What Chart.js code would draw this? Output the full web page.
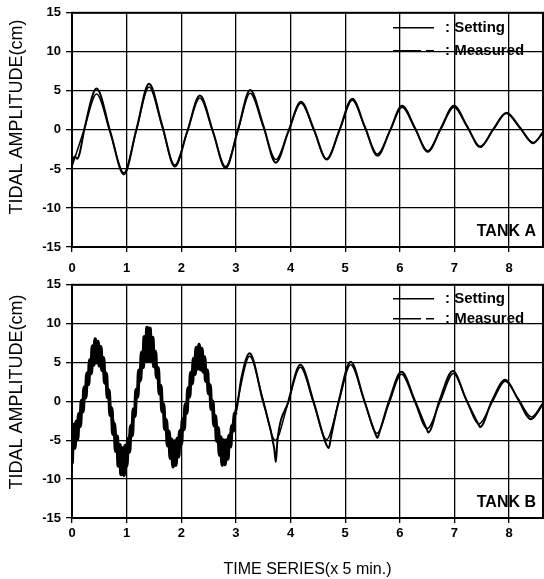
<!DOCTYPE html>
<html>
<head>
<meta charset="utf-8">
<script src="https://cdn.jsdelivr.net/npm/chart.js@4.4.1/dist/chart.umd.min.js"></script>
<style>
  html, body { margin: 0; padding: 0; background: #fff; }
  #wrap { position: relative; width: 544px; height: 579px; }
  .panel { position: absolute; left: 0; width: 544px; }
  #tankA { top: 0; height: 272px; }
  #tankB { top: 272px; height: 307px; }
</style>
</head>
<body>
<div id="wrap">
  <div class="panel" id="tankA"><canvas id="chartA"></canvas></div>
  <div class="panel" id="tankB"><canvas id="chartB"></canvas></div>
</div>
<script>
// Tank A (time in x 5 min, amplitude in cm)
const timeSettingA = [0.00, 0.22, 0.45, 0.70, 0.95, 1.18, 1.41, 1.65, 1.88, 2.11, 2.34, 2.58, 2.81, 3.04, 3.26, 3.50, 3.73, 3.96, 4.19, 4.43, 4.66, 4.90, 5.13, 5.36, 5.59, 5.82, 6.04, 6.28, 6.51, 6.75, 6.99, 7.23, 7.47, 7.71, 7.95, 8.20, 8.44, 8.62];
const ampSettingA = [-4.7, 0.0, 4.6, -0.4, -5.5, 0.0, 5.5, 0.4, -4.5, -0.2, 4.1, -0.3, -4.7, 0.0, 4.7, 0.4, -3.8, -0.2, 3.4, -0.1, -3.7, 0.0, 3.8, 0.3, -3.1, -0.1, 2.9, 0.1, -2.7, 0.1, 2.9, 0.4, -2.1, 0.0, 2.1, 0.2, -1.6, -0.4];
const timeMeasuredA = [0.00, 0.05, 0.10, 0.14, 0.23, 0.45, 0.70, 0.95, 1.18, 1.41, 1.65, 1.88, 2.11, 2.34, 2.58, 2.81, 3.04, 3.26, 3.50, 3.73, 3.96, 4.19, 4.43, 4.66, 4.90, 5.13, 5.36, 5.59, 5.82, 6.04, 6.28, 6.51, 6.75, 6.99, 7.23, 7.47, 7.71, 7.95, 8.20, 8.44, 8.62];
const ampMeasuredA = [-4.2, -3.4, -3.7, -3.0, 0.2, 5.3, -0.2, -5.7, 0.1, 5.9, 0.6, -4.7, -0.2, 4.4, -0.2, -4.9, 0.1, 5.1, 0.6, -4.2, -0.2, 3.6, 0.0, -3.8, 0.1, 4.0, 0.4, -3.3, -0.1, 3.1, 0.2, -2.8, 0.2, 3.1, 0.5, -2.2, 0.1, 2.2, 0.3, -1.7, -0.3];

// Tank B
const timeSettingB = [0.00, 0.23, 0.46, 0.70, 0.93, 1.17, 1.40, 1.64, 1.87, 2.10, 2.33, 2.56, 2.79, 3.02, 3.25, 3.49, 3.72, 3.95, 4.18, 4.42, 4.66, 4.88, 5.10, 5.34, 5.58, 5.80, 6.03, 6.27, 6.50, 6.74, 6.98, 7.21, 7.45, 7.69, 7.93, 8.17, 8.41, 8.62];
const ampSettingB = [-5.0, 0.6, 6.3, -0.4, -7.0, 0.0, 7.0, 0.3, -6.3, -0.3, 5.6, -0.3, -6.2, -0.2, 5.8, 0.4, -5.0, -0.3, 4.4, -0.2, -4.9, -0.1, 4.7, 0.3, -4.1, -0.3, 3.5, 0.0, -3.5, 0.0, 3.6, 0.3, -2.9, -0.1, 2.6, 0.3, -2.0, -0.2];
// noisy start of the measured record, one reading every 0.025 from t = 0
const noisyStepB = 0.025;
const ampMeasuredNoisyB = [
  -8.0, -3.0, -6.0, -2.6, -4.9, -1.6, -3.2, 0.1, -1.3, 1.8,
  0.5, 3.6, 2.2, 5.3, 3.6, 7.1, 4.7, 8.0, 5.0, 7.7,
  4.6, 7.0, 4.0, 5.6, 2.4, 3.6, 0.5, 1.4, -1.8, -0.9,
  -4.2, -2.9, -6.4, -4.5, -8.3, -5.6, -9.4, -6.0, -9.5, -5.7,
  -8.3, -4.8, -6.5, -3.2, -4.4, -1.0, -1.9, 1.5, 0.6, 4.0,
  2.7, 6.3, 4.4, 8.3, 5.2, 9.5, 5.3, 9.4, 5.2, 8.2,
  4.5, 6.4, 3.1, 4.3, 1.0, 2.0, -1.3, -0.4, -3.6, -2.4,
  -5.7, -3.9, -7.3, -4.9, -8.4, -5.1, -8.2, -4.8, -7.1, -3.8,
  -5.5, -2.3, -3.6, -0.4, -1.5, 1.7, 0.6, 3.7, 2.3, 5.5,
  3.5, 6.9, 4.2, 7.3, 4.1, 6.8, 3.8, 5.7, 2.6, 4.0,
  1.0, 2.1, -1.0, 0.0, -3.1, -1.9, -5.1, -3.4, -6.9, -4.6,
  -8.2, -5.0, -8.1, -5.0, -7.4, -4.4, -5.8, -3.2, -3.8, -1.7,
  -1.4
];
const timeMeasuredTailB = [3.10, 3.25, 3.48, 3.70, 3.73, 3.76, 3.95, 4.18, 4.42, 4.64, 4.70, 4.74, 4.88, 5.10, 5.34, 5.56, 5.59, 5.63, 5.80, 6.03, 6.27, 6.50, 6.52, 6.72, 6.97, 7.21, 7.45, 7.47, 7.68, 7.93, 8.16, 8.40, 8.63];
const ampMeasuredTailB = [3.0, 6.2, 0.4, -6.0, -7.8, -5.0, -0.2, 4.7, 0.0, -5.3, -6.0, -4.6, 0.0, 5.1, 0.3, -4.3, -4.7, -3.9, 0.0, 3.8, 0.2, -3.7, -4.0, 0.0, 3.9, 0.3, -3.1, -3.3, 0.0, 2.8, 0.3, -2.3, -0.2];

const xTicks = [0, 1, 2, 3, 4, 5, 6, 7, 8];
const yTicks = [-15, -10, -5, 0, 5, 10, 15];
const seriesNames = ['Setting', 'Measured'];

const FONT = '"Liberation Sans", Arial, Helvetica, sans-serif';

const toPoints = (xs, ys) => xs.map((x, i) => ({ x, y: ys[i] }));
const measuredB = ampMeasuredNoisyB
  .map((y, i) => ({ x: i * noisyStepB, y }))
  .concat(toPoints(timeMeasuredTailB, ampMeasuredTailB));
const noisyEndB = (ampMeasuredNoisyB.length - 1) * noisyStepB;

// frame, y title, legend and tank label, all placed from the chart area
const panelDecor = {
  id: 'panelDecor',
  afterDraw(chart, args, opts) {
    const { ctx, chartArea: a } = chart;
    ctx.save();
    ctx.strokeStyle = '#000';
    ctx.lineWidth = 2;
    ctx.strokeRect(a.left, a.top, a.right - a.left, a.bottom - a.top);

    ctx.fillStyle = '#000';
    ctx.font = '18px ' + FONT;
    ctx.textAlign = 'center';
    ctx.textBaseline = 'middle';
    ctx.save();
    ctx.translate(17, opts.titleY);
    ctx.rotate(-Math.PI / 2);
    ctx.fillText('TIDAL AMPLITUDE(cm)', 0, 0);
    ctx.restore();

    ctx.textAlign = 'left';
    ctx.font = 'bold 15px ' + FONT;
    seriesNames.forEach((name, i) => {
      const y = a.top + opts.legendY[i];
      ctx.beginPath();
      ctx.lineWidth = 1.5;
      ctx.setLineDash(i === 1 ? [28, 5] : []);
      ctx.moveTo(393, y);
      ctx.lineTo(434, y);
      ctx.stroke();
      ctx.setLineDash([]);
      ctx.fillText(': ' + name, 445, y);
    });

    ctx.textAlign = 'right';
    ctx.font = 'bold 16px ' + FONT;
    ctx.fillText(opts.tank, a.right - 7, a.bottom - 15);
    ctx.restore();
  }
};

const makeChart = (canvasId, setting, measured, decor, xHeight, topPad, tickPad, xTitle) => {
  return new Chart(document.getElementById(canvasId), {
    type: 'line',
    data: {
      datasets: [
        {
          label: seriesNames[0],
          data: setting,
          borderColor: '#000',
          borderWidth: 1.5,
          pointRadius: 0,
          cubicInterpolationMode: 'monotone',
          fill: false
        },
        {
          label: seriesNames[1],
          data: measured,
          borderColor: '#000',
          borderWidth: 2,
          pointRadius: 0,
          cubicInterpolationMode: 'monotone',
          fill: false,
          segment: {
            // the wave-maker noise in tank B reads as a heavy band
            borderWidth: ctx => (xTitle && ctx.p0.parsed.x < noisyEndB ? 3.8 : 2)
          }
        }
      ]
    },
    options: {
      animation: false,
      responsive: true,
      maintainAspectRatio: false,
      layout: { padding: { top: topPad, right: 1, left: 0, bottom: 0 } },
      plugins: {
        legend: { display: false },
        tooltip: { enabled: false },
        panelDecor: decor
      },
      scales: {
        x: {
          type: 'linear',
          min: 0,
          max: 8.62,
          afterFit: scale => { scale.height = xHeight; },
          afterBuildTicks: scale => { scale.ticks = xTicks.map(value => ({ value })); },
          grid: { color: '#000', lineWidth: 1.3, tickLength: 5, tickColor: '#000' },
          border: { color: '#000', width: 2 },
          ticks: {
            color: '#000',
            padding: tickPad,
            maxRotation: 0,
            font: { family: FONT, size: 13, weight: 'bold' }
          },
          title: {
            display: !!xTitle,
            text: xTitle || '',
            color: '#000',
            padding: { top: 3, bottom: 0 },
            font: { family: FONT, size: 16 }
          }
        },
        y: {
          min: -15,
          max: 15,
          afterFit: scale => { scale.width = 72; },
          afterBuildTicks: scale => { scale.ticks = yTicks.map(value => ({ value })); },
          grid: { color: '#000', lineWidth: 1.3, tickLength: 6, tickColor: '#000' },
          border: { color: '#000', width: 2 },
          ticks: {
            color: '#000',
            padding: 5,
            font: { family: FONT, size: 13, weight: 'bold' }
          }
        }
      }
    },
    plugins: [panelDecor]
  });
};

makeChart('chartA',
  toPoints(timeSettingA, ampSettingA),
  toPoints(timeMeasuredA, ampMeasuredA),
  { tank: 'TANK A', titleY: 117, legendY: [15, 38] },
  25, 12, 9, null);

makeChart('chartB',
  toPoints(timeSettingB, ampSettingB),
  measuredB,
  { tank: 'TANK B', titleY: 120, legendY: [14, 34] },
  61, 11, 3, 'TIME SERIES(x 5 min.)');
</script>
</body>
</html>
